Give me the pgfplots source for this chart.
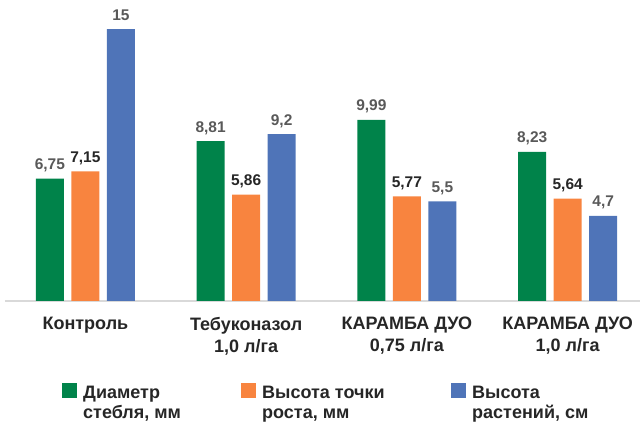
\documentclass[border=0pt]{standalone}
\usepackage{pgfplots}
\pgfplotsset{compat=1.18}
\usepackage{fontspec}
\setmainfont{Liberation Sans}
\definecolor{cg}{HTML}{00834A}
\definecolor{co}{HTML}{F8843F}
\definecolor{cb}{HTML}{4F74B8}
\definecolor{lg}{HTML}{595959}
\definecolor{dk}{HTML}{262626}
\definecolor{axc}{HTML}{D9D9D9}
\newcommand{\lf}{\fontsize{15.5}{18}\selectfont\bfseries}
\newcommand{\tf}{\fontsize{18}{21.7}\selectfont\bfseries}
\newcommand{\gf}{\fontsize{18}{20}\selectfont\bfseries}
\begin{document}
\begin{tikzpicture}[x=1pt,y=1pt]
\path (0,0) rectangle (643,425);
\begin{axis}[
  at={(5pt,124pt)}, anchor=south west,
  scale only axis, width=635pt, height=301pt,
  xmin=-0.5, xmax=3.45, ymin=0, ymax=16.6,
  ybar=7.5pt, bar width=28pt,
  axis y line=none, axis x line*=bottom,
  x axis line style={axc, line width=1.5pt, -},
  xtick={0,1,2,3},
  xticklabels={Контроль, {Тебуконазол\\1,0 л/га}, {КАРАМБА ДУО\\0,75 л/га}, {КАРАМБА ДУО\\1,0 л/га}},
  major tick length=0pt,
  xticklabel style={align=center, font=\tf, text=dk, inner sep=0pt, yshift=-16pt},
  nodes near coords, point meta=explicit symbolic,
  nodes near coords style={font=\lf, anchor=base, inner sep=0pt, yshift=9pt},
  clip=false,
  legend columns=3,
  legend style={draw=none, fill=none, at={(0.0898,-0.2724)}, anchor=north west, inner sep=0pt,
    font=\gf, text=dk, cells={anchor=base west}, nodes={inner sep=0pt},
    /tikz/every odd column/.append style={column sep=6pt}},
  legend image code/.code={\fill[#1] (0pt,0pt) rectangle (15pt,15pt);},
]
\addplot[draw=none, fill=cg, every node near coord/.append style={text=lg}] table[x=x,y=y,meta=l,row sep=\\]{
x y l \\ 0 6.75 6,75 \\ 1 8.81 8,81 \\ 2 9.99 9,99 \\ 3 8.23 8,23 \\};
\addlegendentry{\parbox[t]{158pt}{Диаметр\\стебля, мм}}
\addplot[draw=none, fill=co, every node near coord/.append style={text=dk}] table[x=x,y=y,meta=l,row sep=\\]{
x y l \\ 0 7.15 7,15 \\ 1 5.86 5,86 \\ 2 5.77 5,77 \\ 3 5.64 5,64 \\};
\addlegendentry{\parbox[t]{189pt}{Высота точки\\роста, мм}}
\addplot[draw=none, fill=cb, every node near coord/.append style={text=lg}] table[x=x,y=y,meta=l,row sep=\\]{
x y l \\ 0 15 15 \\ 1 9.2 9,2 \\ 2 5.5 5,5 \\ 3 4.7 4,7 \\};
\addlegendentry{\parbox[t]{120pt}{Высота\\растений, см}}
\end{axis}
\end{tikzpicture}
\end{document}
